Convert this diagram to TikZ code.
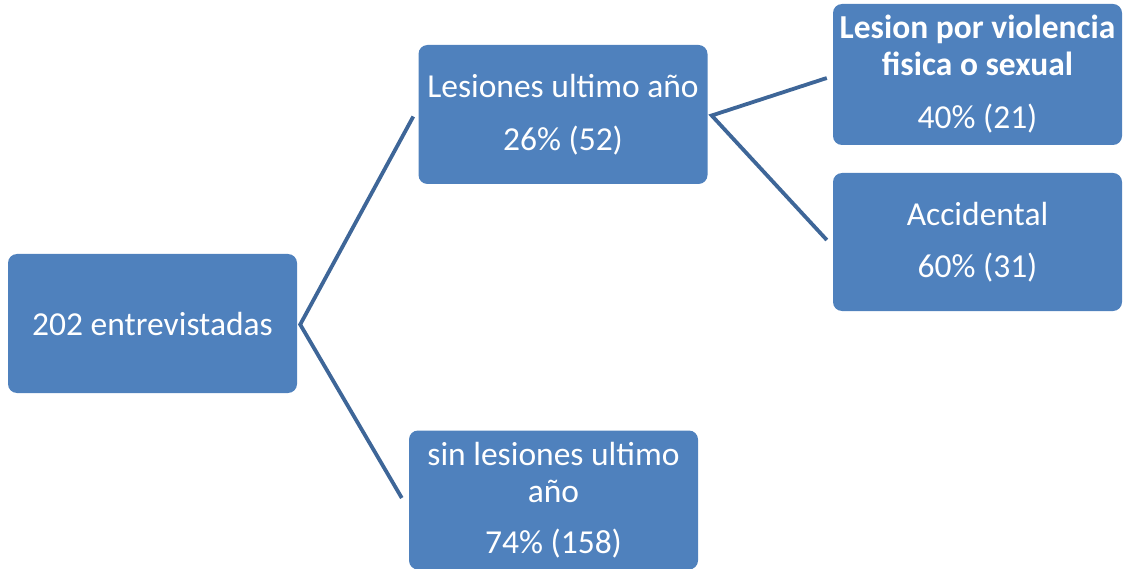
\documentclass[tikz,border=0pt]{standalone}
\usepackage{fontspec}
\setmainfont{Carlito}
\definecolor{boxblue}{RGB}{79,129,189}
\definecolor{linkblue}{RGB}{62,102,152}
\begin{document}
\begin{tikzpicture}[x=1pt,y=-1pt,
    box/.style={draw=none,fill=boxblue,rounded corners=9pt,text=white,
      align=center,inner sep=0pt,minimum width=289pt,minimum height=139pt,
      font=\fontsize{33.5}{37}\selectfont},
    link/.style={draw=linkblue,line width=3.8pt}]
  \useasboundingbox (0,0) rectangle (1132,569);
  \draw
    (152.5,323.5) node[box] (root){202 entrevistadas}
    (563,114.5) node[box] (hurt){Lesiones ultimo año\\[16pt]26\% (52)}
    (553.5,500) node[box] (nohurt){sin lesiones ultimo\\año\\[14pt]74\% (158)}
    (977.5,74.5) node[box,minimum height=141pt] (violence){\textbf{Lesion por violencia}\\\textbf{fisica o sexual}\\[16pt]40\% (21)}
    (977.5,242) node[box,minimum height=138pt] (accident){Accidental\\[15pt]60\% (31)};
  \begin{scope}[link]
    \draw ([xshift=-5pt,yshift=-2pt]hurt.west) -- ([xshift=3pt,yshift=-1pt]root.east) -- ([xshift=-7pt,yshift=2pt]nohurt.west);
    \draw ([xshift=-6pt,yshift=-3.5pt]violence.west) -- ([xshift=4pt,yshift=-1pt]hurt.east) -- ([xshift=-6pt,yshift=2pt]accident.west);
  \end{scope}
\end{tikzpicture}
\end{document}
